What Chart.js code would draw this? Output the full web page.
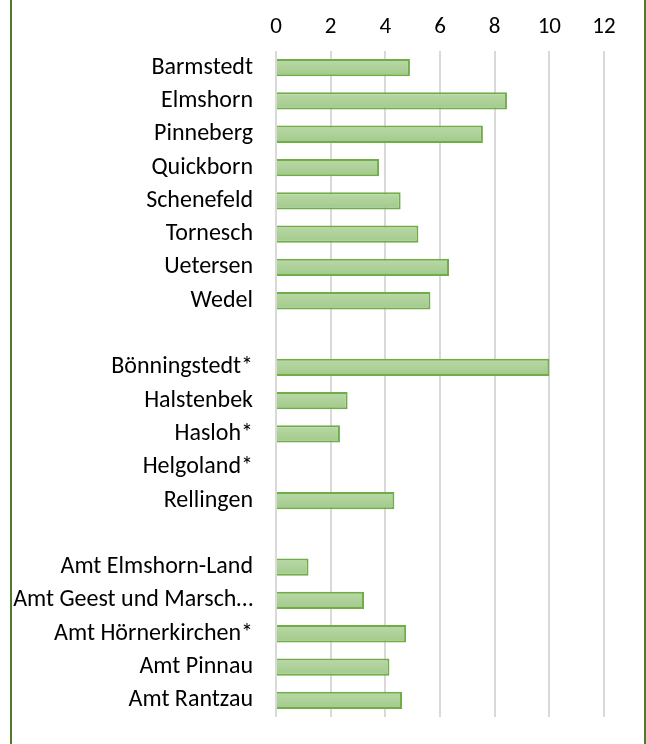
<!DOCTYPE html>
<html>
<head>
<meta charset="utf-8">
<script src="https://cdn.jsdelivr.net/npm/chart.js@4"></script>
<style>
  html, body { margin: 0; padding: 0; background: #ffffff; }
  #wrap { position: relative; width: 646px; height: 744px; }
  #frame { position: absolute; left: 10px; top: 0; width: 632px; height: 744px;
           border-left: 2px solid #4f7a2c; border-right: 2px solid #4f7a2c; pointer-events: none; }
  canvas { position: absolute; left: 0; top: 0; }
</style>
</head>
<body>
<div id="wrap">
  <canvas id="c" width="646" height="744"></canvas>
  <div id="frame"></div>
</div>
<script>
// Municipalities, grouped: towns, municipalities, Ämter (blank rows separate groups)
const categories = [
  'Barmstedt', 'Elmshorn', 'Pinneberg', 'Quickborn', 'Schenefeld', 'Tornesch', 'Uetersen', 'Wedel',
  '',
  'Bönningstedt*', 'Halstenbek', 'Hasloh*', 'Helgoland*', 'Rellingen',
  '',
  'Amt Elmshorn-Land', 'Amt Geest und Marsch…', 'Amt Hörnerkirchen*', 'Amt Pinnau', 'Amt Rantzau'
];
const values = [
  4.9, 8.45, 7.57, 3.77, 4.56, 5.21, 6.33, 5.65,
  null,
  10.0, 2.62, 2.34, null, 4.33,
  null,
  1.19, 3.22, 4.76, 4.15, 4.61
];
const xTicks = [0, 2, 4, 6, 8, 10, 12];

const FONT = "Carlito, 'Open Sans', 'Liberation Sans', sans-serif";

function barFill(ctx) {
  if (ctx.type !== 'data') return '#acd098';
  const chart = ctx.chart;
  const y = chart.scales.y;
  if (!y || y.top === undefined) return '#acd098';
  const cy = y.getPixelForValue(ctx.dataIndex);
  const g = chart.ctx.createLinearGradient(0, cy - 9, 0, cy + 9);
  g.addColorStop(0, '#bad9a8');
  g.addColorStop(1, '#a1c98a');
  return g;
}

new Chart(document.getElementById('c'), {
  type: 'bar',
  data: {
    labels: categories,
    datasets: [{
      data: values,
      backgroundColor: barFill,
      borderColor: '#70ad47',
      borderWidth: 2,
      borderSkipped: 'start',
      barPercentage: 1,
      categoryPercentage: 0.52
    }]
  },
  options: {
    indexAxis: 'y',
    responsive: false,
    animation: false,
    layout: { padding: { left: 0, right: 42, top: 0, bottom: 27 } },
    plugins: { legend: { display: false }, tooltip: { enabled: false } },
    scales: {
      x: {
        position: 'top',
        min: 0,
        max: 12,
        afterBuildTicks: (s) => { s.ticks = xTicks.map(v => ({ value: v })); },
        afterFit: (s) => { s.height = 51; s.paddingLeft = 0; s.paddingRight = 0; },
        ticks: { color: '#000000', font: { family: FONT, size: 23 }, padding: 10 },
        grid: { color: '#d9d9d9', lineWidth: 2, drawTicks: false },
        border: { display: false }
      },
      y: {
        afterFit: (s) => { s.width = 276; s.paddingTop = 0; s.paddingBottom = 0; },
        ticks: { color: '#000000', font: { family: FONT, size: 24 }, padding: 23, autoSkip: false },
        grid: { display: false, drawTicks: false },
        border: { display: false }
      }
    }
  }
});
</script>
</body>
</html>
